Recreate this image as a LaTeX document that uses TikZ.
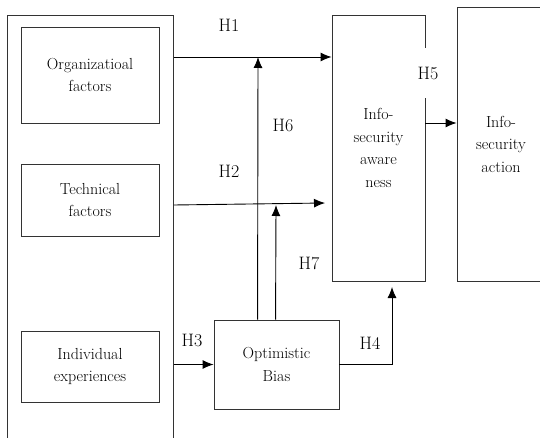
\documentclass[tikz,border=0pt]{standalone}
\usetikzlibrary{arrows.meta}

\begin{document}
\begin{tikzpicture}[x=1pt, y=-1pt, line width=0.9pt, >={Latex[length=11pt,width=9pt]},
    box/.style={draw=black!80, rectangle, align=center, inner sep=0pt, font=\fontsize{16}{22.5}\selectfont},
    hlabel/.style={inner sep=1pt, font=\fontsize{18}{22}\selectfont}]
    \useasboundingbox (0,0) rectangle (540,438);

    \node (Outer) [box, minimum width=166pt, minimum height=440pt, anchor=north west] at (7,15) {};
    \node (Organizational) [box, minimum width=138pt, minimum height=96pt] at (90,75) {Organizatioal\\factors};
    \node (Technical) [box, minimum width=138pt, minimum height=72pt, below of=Organizational, node distance=125pt] {Technical\\factors};
    \node (Individual) [box, minimum width=138pt, minimum height=71pt, below of=Technical, node distance=166.5pt] {Individual\\experiences};
    \node (Optimistic) [box, minimum width=125pt, minimum height=89pt, right of=Individual, node distance=186.5pt, yshift=2pt] {Optimistic\\Bias};
    \node (Awareness) [box, minimum width=93pt, minimum height=266pt] at (378.5,148) {Info-\\security\\aware\\ness};
    \node (Action) [box, minimum width=88pt, minimum height=274pt] at (501,144) {Info-\\security\\action};

    \coordinate (h2end) at (325,203);
    \coordinate (h4end) at (392,287);
    \coordinate (h6end) at (258,57);
    \coordinate (h7end) at (276,205);

    \draw[->] (Outer.east |- 0,57) -- (Awareness.west |- 0,57);
    \draw[->] (Outer.east |- 0,205) -- (h2end);
    \draw[->] (Outer.east |- Optimistic.west) -- (Optimistic.west);
    \draw[->] (Optimistic.east) -| (h4end);
    \draw[->] (Awareness.east |- 0,123) -- (Action.west |- 0,123);
    \draw[->] ([xshift=44pt]Optimistic.north west) -- (h6end);
    \draw[->] ([xshift=62pt]Optimistic.north west) -- (h7end);

    \node (H1) [hlabel] at (229,25) {H1};
    \node (H2) [hlabel] at (229,171) {H2};
    \node (H3) [hlabel] at (192,340) {H3};
    \node (H4) [hlabel] at (370,343) {H4};
    \node (H5) [hlabel, fill=white, minimum height=50pt] at (428,73) {H5};
    \node (H6) [hlabel] at (283,125) {H6};
    \node (H7) [hlabel] at (309,263) {H7};
\end{tikzpicture}
\end{document}
